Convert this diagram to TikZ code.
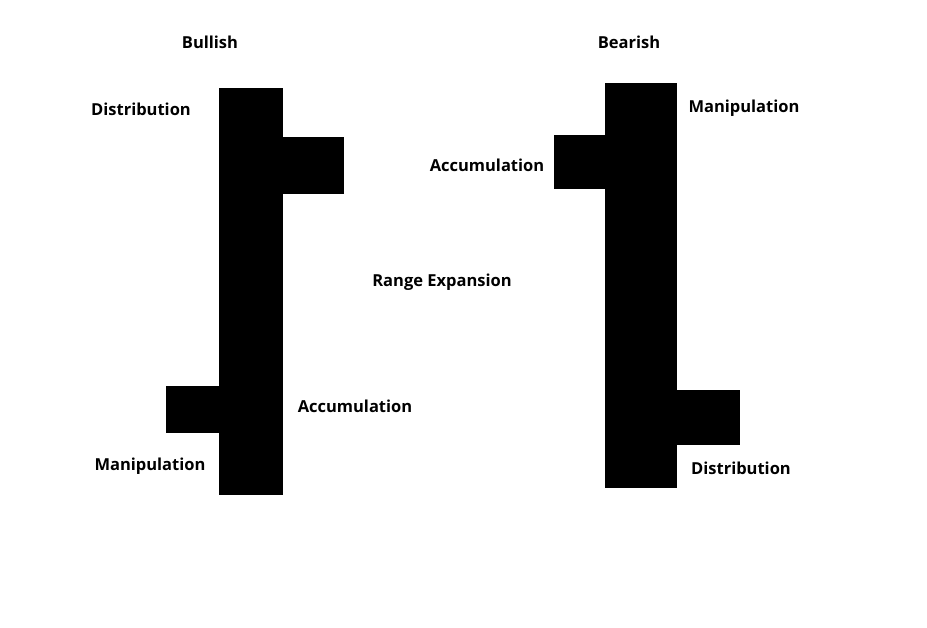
\documentclass[tikz,border=0pt]{standalone}
\usepackage{fontspec}
\setmainfont{Open Sans}
\begin{document}
\begin{tikzpicture}[x=1pt,y=-1pt,
  blk/.style={fill=black,draw=none},
  lbl/.style={font=\bfseries\fontsize{16.5}{19}\selectfont,inner sep=0pt,anchor=center}]
\useasboundingbox[fill=white] (0,0) rectangle (927,628);
% Bullish candle
\fill[blk] (219,88) rectangle (283,495);
\fill[blk] (283,137) rectangle (344,194);
\fill[blk] (166,386) rectangle (219,433);
% Bearish candle
\fill[blk] (605,83) rectangle (677,488);
\fill[blk] (554,135) rectangle (605,189);
\fill[blk] (677,390) rectangle (740,445);
% labels
\node[lbl] (bull) at (210,42) {Bullish};
\node[lbl] (bear) at (629,42) {Bearish};
\node[lbl] (d1) at (141,109) {Distribution};
\node[lbl] (m2) at (744,108) {Manipulation};
\node[lbl] (a2) at (487,165) {Accumulation};
\node[lbl] (re) at (442,282) {Range Expansion};
\node[lbl] (a1) at (355,406) {Accumulation};
\node[lbl] (m1) at (150,466) {Manipulation};
\node[lbl] (d2) at (741,468) {Distribution};
\end{tikzpicture}
\end{document}
